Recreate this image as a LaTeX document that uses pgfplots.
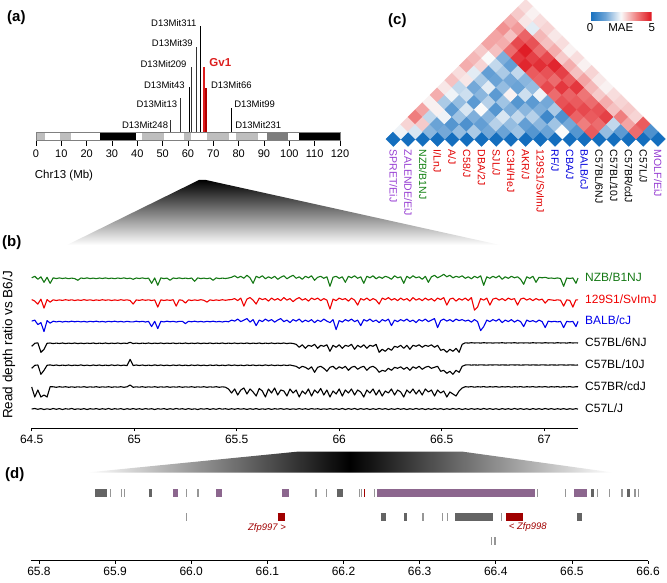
\documentclass[border=0pt]{standalone}
\usepackage{fontspec}
\setmainfont{Liberation Sans}
\usepackage{pgfplots}
\pgfplotsset{compat=1.18}
\usepackage{pgfplotstable}

\definecolor{trkgreen}{RGB}{20,120,20}
\definecolor{trkred}{RGB}{240,0,0}
\definecolor{trkblue}{RGB}{0,0,235}
\definecolor{lblpurple}{RGB}{150,60,210}
\definecolor{lblgreen}{RGB}{20,130,20}
\definecolor{lblred}{RGB}{225,0,0}
\definecolor{lblblue}{RGB}{0,0,220}
\definecolor{genegray}{RGB}{100,100,100}
\definecolor{thingray}{RGB}{150,150,150}
\definecolor{genepurple}{RGB}{140,102,142}
\definecolor{genered}{RGB}{160,0,0}
\definecolor{bandgray}{RGB}{190,190,190}
\definecolor{banddark}{RGB}{125,125,125}
\definecolor{gvred}{RGB}{220,30,30}

\pgfplotstableread{
x g r b k1 k2 k3 k4
64.500 0.5 0.5 0.5 -3 -3 0 0
64.515 2 -1 1.5 0 0 -10 0.5
64.530 -1 -4 -3 0.5 0.3 -3 -0.3
64.545 1.5 1 -1 -9 -9 -10 0.4
64.560 -4 -8 -10 -6 -5 -8 -0.5
64.575 1 0.5 1 0 0 -10 0.2
64.590 -5 -2 -1.5 0.3 0.4 0.3 -0.4
64.605 0.5 0.3 0.4 -0.3 -0.2 0.2 0.5
64.620 -0.3 -0.4 -0.3 0.2 0.3 -0.3 -0.3
64.635 0.4 0.2 0.3 -0.2 -0.3 0.3 0.4
64.650 -0.2 -0.3 -0.4 0.3 0.2 -0.2 -0.5
64.665 0.3 0.4 0.2 -0.3 -0.2 0.3 0.3
64.680 -0.4 -0.2 -0.3 0.2 0.3 -0.3 -0.2
64.695 0.2 0.3 0.4 -0.2 -0.3 0.2 0.5
64.710 -0.3 -0.4 -0.2 0.3 0.2 -0.3 -0.4
64.725 -2 0.2 0.3 -0.3 -0.2 0.2 0.2
64.740 0.3 -0.3 -0.3 0.2 0.4 -0.2 -0.3
64.755 -0.2 0.4 0.2 -0.3 -0.3 0.3 0.4
64.770 0.4 -0.2 -0.4 0.2 0.2 -0.3 -0.5
64.785 -0.3 0.3 0.3 -0.2 -0.4 0.2 0.3
64.800 0.2 -0.4 -0.2 0.3 0.3 -0.2 -0.2
64.815 -0.4 0.2 0.4 -0.3 -0.2 0.3 0.4
64.830 0.3 -0.3 -0.3 0.2 0.3 -0.3 -0.4
64.845 -0.2 0.4 0.2 -0.2 -0.3 0.2 0.3
64.860 0.4 -0.2 -0.4 0.3 0.2 -0.2 -0.3
64.875 -0.3 0.3 0.3 -0.3 -0.3 0.3 0.5
64.890 0.2 -0.4 -0.2 0.2 0.4 -0.3 -0.4
64.905 -0.4 0.2 0.4 -0.2 -0.2 0.2 0.3
64.920 0.3 -0.3 -0.3 0.3 0.3 -0.2 -0.2
64.935 -0.2 0.4 0.2 -0.3 -0.3 0.3 0.4
64.950 0.4 -0.2 -0.4 0.2 0.2 -0.3 -0.5
64.965 -0.3 0.3 0.3 -0.2 -0.4 0.2 0.3
64.980 0.2 -0.4 -0.2 1 6 2 -0.3
64.995 -1 -4 -0.3 -0.3 -0.2 -0.3 0.4
65.010 0.3 0.2 0.4 0.2 0.3 0.2 -0.3
65.025 -0.2 -0.3 -0.2 -0.3 -0.2 -0.2 0.3
65.040 0.4 0.4 0.3 0.2 0.3 0.3 -0.4
65.055 -0.3 -0.2 -0.4 -0.2 -0.3 -0.3 0.4
65.070 0.2 0.3 0.2 0.3 0.2 0.2 -0.2
65.085 -5 -0.4 -5 -0.3 -0.3 -0.2 0.3
65.100 0.3 0.2 0.3 0.2 0.4 0.3 -0.5
65.115 -7 -7 -7 -0.2 -0.2 -0.3 0.3
65.130 0.4 0.3 0.2 0.3 0.3 0.2 -0.2
65.145 -0.3 -0.4 -0.3 -0.3 -0.3 -0.2 0.4
65.160 0.2 0.2 0.4 0.2 0.2 0.3 -0.4
65.175 -2 -0.3 -0.2 -0.2 -0.4 -0.3 0.3
65.190 0.3 0.4 0.3 0.3 0.3 0.2 -0.3
65.205 -0.2 -6 -0.4 -0.3 -0.2 -0.2 0.5
65.220 0.4 0.3 0.2 0.2 0.3 0.3 -0.2
65.235 -0.3 -0.2 0.3 -0.2 -0.3 -0.3 0.3
65.250 0.2 -3 -2 0.3 0.2 0.2 -0.4
65.265 -0.4 0.3 0.3 -0.3 -0.4 -0.2 0.4
65.280 0.3 -0.4 -0.2 0.2 0.3 0.3 -0.3
65.295 -3 0.2 0.4 -0.2 -0.2 -0.3 0.2
65.310 0.4 -0.3 -0.3 0.3 0.3 0.2 -0.5
65.325 -0.3 0.4 0.2 -0.3 -0.3 -0.2 0.3
65.340 0.2 -0.2 -0.4 0.2 0.2 0.3 -0.2
65.355 -0.4 -2 0.3 -0.2 -0.4 -0.3 0.4
65.370 0.3 0.3 -0.2 0.3 0.3 0.2 -0.4
65.385 -2 -0.4 0.4 -0.3 -0.2 -0.2 0.3
65.400 0.4 0.2 -0.3 0.2 0.3 0.3 -0.3
65.415 -0.3 -0.3 0.2 -0.2 -0.3 -0.3 0.5
65.430 0.2 0.4 -0.4 0.3 0.2 0.2 -0.2
65.445 -0.2 -0.2 0.3 -0.3 -0.3 -0.2 0.3
65.460 0.3 0.3 -0.2 0.2 0.4 -2 -0.4
65.475 1 0.5 1.5 -0.2 -0.2 -6 0.3
65.490 2.5 1.5 0.5 0.3 0.3 -2 -0.3
65.505 0.5 -0.5 2.5 -0.3 -0.3 -8 0.4
65.520 2 2 0 0.2 0.2 -3 -0.2
65.535 0 -6 1.5 -0.2 -0.4 -1 0.3
65.550 3 1 3 0.3 0.3 -7 -0.4
65.565 0.5 2.5 -0.5 -0.3 -0.2 -2 0.3
65.580 -5 0 2 0.2 0.3 -5 -0.3
65.595 2 -4 -4 -0.2 -0.3 -9 0.4
65.610 0.5 2 1.5 0.3 0.2 -1.5 -0.4
65.625 2.5 0.5 0 -0.3 -0.3 -4 0.2
65.640 -0.5 1.5 2.5 0.2 0.4 -10 -0.3
65.655 1.5 -1 0.5 -0.2 -0.2 -2 0.4
65.670 0 2 2 0.3 0.3 -6 -0.4
65.685 2 0 -0.5 -0.3 -0.3 -1 0.3
65.700 -1 1.5 1.5 0.2 0.2 -8 -0.2
65.715 1 -0.5 3 -0.2 -0.3 -3 0.4
65.730 2.5 2.5 0 0.3 0.3 -4 -0.3
65.745 -0.5 0 1.5 -0.3 -0.2 -9 0.3
65.760 1.5 1.5 -1 0.2 0.3 -2 -0.4
65.775 3 -1.5 2 -0.2 -0.4 -6 0.2
65.790 0 1 0.5 -1 -1 -3 -0.3
65.805 1.5 2.5 2.5 -4 -3 -10 0.4
65.820 -1 0 -0.5 -1.5 -1 -4 -0.3
65.835 2 1.5 1.5 -5 -2 -7 0.3
65.850 0.5 -1 0 -2 -4 -2 -0.4
65.865 2.5 2 2 -3 -1.5 -9 0.4
65.880 -2 0.5 -1 -1 -7 -3 -0.2
65.895 1 2 1.5 -5 -2 -6 0.3
65.910 2 -0.5 0 -2 -1 -1.5 -0.4
65.925 0 1.5 2.5 -3 -3 -8 0.2
65.940 1.5 0 0.5 -1.5 -6 -3 -0.3
65.955 -8 -9 -1 -8 -2 -10 0.4
65.970 1 1 2 -2 -1 -4 -0.3
65.985 2 -0.5 -8 -4 -4 -7 0.3
66.000 0 2 1 -1.5 -1.5 -2 -0.4
66.015 1.5 0.5 -0.5 -5 -3 -9 0.5
66.030 -4 1.5 2 -2 -1 -3 -0.5
66.045 2 -1 0.5 -3 -5 -6 0.4
66.060 0.5 2 2.5 -1 -2 -2 -0.3
66.075 2.5 0 0 -6 -1 -8 0.5
66.090 0 -5 1.5 -2 -4 -3 -0.5
66.105 1.5 1.5 -4 -4 -2 -5 0.4
66.120 -5 0 2 -1.5 -1 -10 -0.3
66.135 2 2 0.5 -5 -5 -3 0.4
66.150 0.5 -0.5 2.5 -2 -2 -6 -0.5
66.165 2.5 1.5 0 -3 -1 -2 0.3
66.180 -0.5 0 1.5 -1 -3 -8 -0.4
66.195 1.5 -4 -1 -9 -7 -3 0.5
66.210 0 2 2 -6 -5 -9 -0.3
66.225 2 0.5 0.5 -8 -6 -4 0.4
66.240 1 2.5 2.5 -5 -3 -6 -0.5
66.255 -1 0 -4 -7 -5 -2 0.3
66.270 2.5 1.5 1.5 -3 -2 -8 -0.4
66.285 0.5 -0.5 0 -4 -3 -3 0.5
66.300 1.5 2 2 -2 -1.5 -5 -0.3
66.315 -5 0 0.5 -5 -4 -10 0.4
66.330 2 1.5 2.5 -2 -2 -3 -0.5
66.345 0 -1 0 -6 -5 -6 0.3
66.360 2.5 2.5 1.5 -2 -1.5 -2 -0.4
66.375 0.5 0 -1 -3 -3 -7 0.5
66.390 1.5 1.5 2 -1.5 -1 -3 -0.3
66.405 -1 -0.5 0.5 -4 -4 -8 0.4
66.420 2 2 2.5 -2 -2 -2 -0.5
66.435 -4 0 0 -3 -1 -5 0.3
66.450 1.5 1.5 1.5 -1.5 -3 -3 -0.4
66.465 3 -1 3 -4 -2 -9 0.5
66.480 0.5 2 -6 -2 -1 -3 -0.3
66.495 2 0.5 1 -7 -6 -6 0.4
66.510 4 2.5 2.5 -6 -5 -4 -0.5
66.525 1.5 -5 0.5 -9 -8 -10 0.3
66.540 3 1 2 -6 -6 -5 -0.4
66.555 0.5 2 0 -8 -9 -7 0.5
66.570 2 -1 2.5 -5 -5 -9 -0.3
66.585 1 1.5 1 -9 -7 -4 0.4
66.600 2.5 0 2 -1 -1 -1 -0.5
66.615 0 2 0.5 0.5 0.3 0.3 0.3
66.630 1.5 -0.5 1.5 0.2 0.5 0 -0.4
66.645 -0.5 2.5 -0.5 0.6 0.2 0.4 0.4
66.660 2 -10 2 0.3 0.4 -0.2 -0.3
66.675 0.5 -7 0 0.5 0.2 0.3 0.3
66.690 2.5 1.5 -9 0.2 0.5 0 -0.4
66.705 -7 0 -5 0.6 0.3 0.4 0.5
66.720 1.5 2 1.5 0.3 0.2 -0.2 -0.3
66.735 0 -5 0 0.5 0.4 0.3 0.4
66.750 2 1 2 0.2 0.3 0 -0.4
66.765 0.5 2 0.5 0.5 0.5 0.4 0.3
66.780 2.5 0 2.5 0.3 0.2 -0.2 -0.5
66.795 -1 1.5 -1 0.6 0.4 0.3 0.4
66.810 1.5 -0.5 1.5 0.2 0.3 0 -0.3
66.825 0 2 0 0.5 0.2 0.4 0.3
66.840 2 0.5 2 0.3 0.5 -0.2 -0.4
66.855 0.5 1.5 -0.5 0.6 0.3 0.3 0.5
66.870 1.5 -5 1.5 0.2 0.4 0 -0.3
66.885 -1 1 0 0.5 0.2 0.4 0.4
66.900 -6 2 -5 0.3 0.3 -0.2 -0.4
66.915 1.5 0 1.5 0.5 0.5 0.3 0.3
66.930 0 1.5 0 0.2 0.2 0 -0.5
66.945 2 -0.5 1 0.6 0.4 0.4 0.4
66.960 -4 1.5 -0.5 0.3 0.3 -0.2 -0.3
66.975 1 0 1.5 0.5 0.2 0.3 0.3
66.990 0.5 1 0 0.2 0.5 0 -0.4
67.005 1 -3 -6 0.6 0.3 0.4 0.5
67.020 0 0.5 0.5 0.3 0.2 -0.2 -0.3
67.035 0.3 0.2 -0.2 0.5 0.4 0.3 0.4
67.050 -0.2 -0.3 0.3 0.2 0.3 0 -0.4
67.065 0.4 0.3 -0.3 0.6 0.2 0.4 0.3
67.080 -0.3 -0.2 0.2 0.3 0.5 -0.2 -0.3
67.095 -8 -6 -6 0.5 0.3 0.3 0.4
67.110 0.3 0.3 0.3 0.2 0.2 0 -0.4
67.125 -0.2 -0.3 -0.3 0.6 0.4 0.4 0.3
67.140 0.4 -7 0.2 0.3 0.3 -0.2 -0.3
67.155 -5 0.3 -5 0.5 0.2 0.3 0.4
67.165 0.2 0.2 0.2 0.3 0.3 0.2 -0.2
}\tracks

\pgfplotstableread{
i j v
1 1 0
2 2 0
3 3 0
4 4 0
5 5 0
6 6 0
7 7 0
8 8 0
9 9 0
10 10 0
11 11 0
12 12 0
13 13 0
14 14 0
15 15 0
16 16 0
17 17 0
18 18 0
19 19 0
1 2 2.4
1 3 2.9
1 4 3.8
1 5 3.4
1 6 2.6
1 7 3.3
1 8 2.7
1 9 3.1
1 10 2.8
1 11 3.3
1 12 3.2
1 13 3.0
1 14 3.4
1 15 3.4
1 16 3.6
1 17 3.3
1 18 3.0
1 19 2.8
2 3 2.2
2 4 3.0
2 5 2.0
2 6 2.6
2 7 1.8
2 8 2.4
2 9 2.0
2 10 2.7
2 11 2.3
2 12 2.9
2 13 2.5
2 14 3.1
2 15 3.3
2 16 3.1
2 17 3.5
2 18 2.7
2 19 2.6
3 4 1.5
3 5 1.2
3 6 2.4
3 7 1.0
3 8 1.6
3 9 2.1
3 10 1.3
3 11 1.8
3 12 1.1
3 13 2.0
3 14 1.4
3 15 4.0
3 16 4.4
3 17 4.1
3 18 2.3
3 19 2.8
4 5 1.3
4 6 0.9
4 7 1.7
4 8 2.2
4 9 1.0
4 10 1.5
4 11 2.3
4 12 1.2
4 13 1.8
4 14 1.1
4 15 4.6
4 16 4.9
4 17 4.3
4 18 3.2
4 19 2.9
5 6 1.6
5 7 0.8
5 8 1.4
5 9 2.5
5 10 1.9
5 11 1.0
5 12 1.6
5 13 1.3
5 14 2.0
5 15 4.8
5 16 4.5
5 17 4.0
5 18 3.1
5 19 2.7
6 7 1.8
6 8 1.1
6 9 1.5
6 10 0.9
6 11 1.7
6 12 2.6
6 13 1.2
6 14 1.5
6 15 4.2
6 16 4.7
6 17 4.4
6 18 3.3
6 19 2.8
7 8 1.3
7 9 1.9
7 10 2.2
7 11 1.4
7 12 0.9
7 13 2.1
7 14 1.6
7 15 4.1
7 16 4.3
7 17 4.8
7 18 3.0
7 19 2.6
8 9 1.2
8 10 1.6
8 11 2.0
8 12 1.5
8 13 1.0
8 14 2.4
8 15 4.4
8 16 4.0
8 17 4.5
8 18 3.3
8 19 2.8
9 10 1.7
9 11 1.1
9 12 1.9
9 13 1.4
9 14 1.3
9 15 4.0
9 16 4.6
9 17 4.2
9 18 3.1
9 19 2.6
10 11 0.9
10 12 1.5
10 13 0.6
10 14 1.8
10 15 4.3
10 16 4.1
10 17 4.6
10 18 3.4
10 19 2.9
11 12 1.2
11 13 1.7
11 14 0.8
11 15 4.5
11 16 4.2
11 17 3.9
11 18 3.2
11 19 2.7
12 13 2.5
12 14 1.3
12 15 4.1
12 16 4.4
12 17 4.0
12 18 3.0
12 19 2.6
13 14 0.9
13 15 3.8
13 16 4.2
13 17 4.3
13 18 3.3
13 19 2.8
14 15 4.2
14 16 4.0
14 17 4.5
14 18 3.1
14 19 2.9
15 16 1.6
15 17 2.0
15 18 3.8
15 19 3.0
16 17 1.0
16 18 3.4
16 19 2.9
17 18 4.0
17 19 4.2
18 19 0.8
}\heat

\begin{document}
\begin{tikzpicture}[x=1pt,y=1pt]
\path[use as bounding box] (0,0) rectangle (667,582);

% connecting wedges
\shade[top color=black, bottom color=white] (199,402) -- (206,402) -- (500,337) -- (67,337) -- cycle;
\shade[left color=white, right color=white, middle color=black] (297,130.3) -- (463,130.3) -- (613,109.5) -- (87,109.5) -- cycle;

% panel labels
\node[anchor=west, inner sep=0pt, font=\fontsize{15}{16}\selectfont\bfseries] at (7,564) {(a)};
\node[anchor=west, inner sep=0pt, font=\fontsize{15}{16}\selectfont\bfseries] at (2,339) {(b)};
\node[anchor=west, inner sep=0pt, font=\fontsize{15}{16}\selectfont\bfseries] at (388,561) {(c)};
\node[anchor=west, inner sep=0pt, font=\fontsize{15}{16}\selectfont\bfseries] at (5,107) {(d)};

% ---------------- (a) chromosome ----------------
\begin{axis}[at={(36pt,442pt)}, anchor=south west, scale only axis,
  width=304pt, height=130pt, xmin=0, xmax=120, ymin=0, ymax=130, clip=false,
  axis x line=bottom, axis y line=none, x axis line style={draw=none},
  xtick={0,10,...,120}, tick align=outside, major tick length=6pt,
  xtick style={black, line width=0.5pt},
  xticklabel style={font=\fontsize{11}{12}\selectfont},
  /pgf/number format/assume math mode=true]
\addplot[fill=bandgray, draw=none] coordinates {(0,8)(3.5,8)} \closedcycle;
\addplot[fill=bandgray, draw=none] coordinates {(9.5,8)(13.7,8)} \closedcycle;
\addplot[fill=black, draw=none] coordinates {(25.3,8)(39.4,8)} \closedcycle;
\addplot[fill=bandgray, draw=none] coordinates {(41.8,8)(50.6,8)} \closedcycle;
\addplot[fill=bandgray, draw=none] coordinates {(58.6,8)(61.1,8)} \closedcycle;
\addplot[fill=bandgray, draw=none] coordinates {(67.5,8)(76,8)} \closedcycle;
\addplot[fill=bandgray, draw=none] coordinates {(79,8)(87.5,8)} \closedcycle;
\addplot[fill=banddark, draw=none] coordinates {(91,8)(99.3,8)} \closedcycle;
\addplot[fill=black, draw=none] coordinates {(104,8)(120,8)} \closedcycle;
\addplot[draw=gray, line width=0.5pt] coordinates {(0,0)(120,0)(120,8)(0,8)(0,0)};
% markers
\addplot[black!80, line width=0.6pt] coordinates {(53,8)(53,20)};
\addplot[black!80, line width=0.6pt] coordinates {(57,8)(57,42)};
\addplot[black, line width=1.1pt] coordinates {(60.5,8)(60.5,53)};
\addplot[black!80, line width=0.6pt] coordinates {(61.3,8)(61.3,73)};
\addplot[black!80, line width=0.6pt] coordinates {(63.3,8)(63.3,93)};
\addplot[black, line width=0.6pt] coordinates {(64.7,8)(64.7,114)};
\addplot[gvred, line width=1.1pt] coordinates {(66.3,8)(66.3,73)};
\addplot[red!70!black, line width=1.1pt] coordinates {(67.1,8)(67.1,52)};
\addplot[black, line width=0.6pt] coordinates {(77,8)(77,32)};
\addplot[black, line width=1.0pt] coordinates {(77.3,8)(77.3,13)};
\node[anchor=east, inner sep=0pt, font=\fontsize{9.5}{10}\selectfont] at (axis cs:63.4,117) {D13Mit311};
\node[anchor=east, inner sep=0pt, font=\fontsize{9.5}{10}\selectfont] at (axis cs:61.9,97) {D13Mit39};
\node[anchor=east, inner sep=0pt, font=\fontsize{9.5}{10}\selectfont] at (axis cs:59.5,76) {D13Mit209};
\node[anchor=east, inner sep=0pt, font=\fontsize{9.5}{10}\selectfont] at (axis cs:58.8,55) {D13Mit43};
\node[anchor=east, inner sep=0pt, font=\fontsize{9.5}{10}\selectfont] at (axis cs:55.8,36) {D13Mit13};
\node[anchor=east, inner sep=0pt, font=\fontsize{9.5}{10}\selectfont] at (axis cs:52.2,15) {D13Mit248};
\node[anchor=west, inner sep=0pt, text=gvred, font=\fontsize{11.5}{12}\selectfont\bfseries] at (axis cs:68.4,77) {Gv1};
\node[anchor=west, inner sep=0pt, font=\fontsize{9.5}{10}\selectfont] at (axis cs:69.0,55) {D13Mit66};
\node[anchor=west, inner sep=0pt, font=\fontsize{9.5}{10}\selectfont] at (axis cs:78.2,36) {D13Mit99};
\node[anchor=west, inner sep=0pt, font=\fontsize{9.5}{10}\selectfont] at (axis cs:78.6,15) {D13Mit231};
\node[anchor=west, inner sep=0pt, font=\fontsize{11.5}{12}\selectfont] at (axis cs:-0.5,-36) {Chr13 (Mb)};
\end{axis}

% ---------------- (b) read depth tracks ----------------
\begin{axis}[at={(31.7pt,153.7pt)}, anchor=south west, scale only axis,
  width=546.3pt, height=166pt, xmin=64.5, xmax=67.165, ymin=-150, ymax=16, clip=false,
  axis x line=bottom, axis y line=none, x axis line style={-, line width=0.7pt},
  xtick={64.5,65,65.5,66,66.5,67}, tick align=outside, major tick length=3pt,
  xtick style={black, line width=0.6pt},
  xticklabel style={font=\fontsize{12}{13}\selectfont},
  /pgf/number format/assume math mode=true]
\addplot[trkgreen, line width=1.1pt, line join=round] table[x=x, y=g] {\tracks};
\addplot[trkred, line width=1.1pt, line join=round] table[x=x, y expr=\thisrow{r}-21.8] {\tracks};
\addplot[trkblue, line width=1.1pt, line join=round] table[x=x, y expr=\thisrow{b}-43.3] {\tracks};
\addplot[black, line width=1.1pt, line join=round] table[x=x, y expr=\thisrow{k1}-65] {\tracks};
\addplot[black, line width=1.1pt, line join=round] table[x=x, y expr=\thisrow{k2}-87] {\tracks};
\addplot[black, line width=1.1pt, line join=round] table[x=x, y expr=\thisrow{k3}-108.7] {\tracks};
\addplot[black, line width=1.1pt, line join=round] table[x=x, y expr=\thisrow{k4}-130.7] {\tracks};
\end{axis}
\node[rotate=90, font=\fontsize{13.5}{14}\selectfont] at (9,237) {Read depth ratio vs B6/J};
\node[anchor=west, inner sep=0pt, text=trkgreen, font=\fontsize{12}{13}\selectfont] at (585,304.5) {NZB/B1NJ};
\node[anchor=west, inner sep=0pt, text=trkred, font=\fontsize{12}{13}\selectfont] at (585,283) {129S1/SvImJ};
\node[anchor=west, inner sep=0pt, text=trkblue, font=\fontsize{12}{13}\selectfont] at (585,261.5) {BALB/cJ};
\node[anchor=west, inner sep=0pt, font=\fontsize{12}{13}\selectfont] at (585,239.5) {C57BL/6NJ};
\node[anchor=west, inner sep=0pt, font=\fontsize{12}{13}\selectfont] at (585,217.5) {C57BL/10J};
\node[anchor=west, inner sep=0pt, font=\fontsize{12}{13}\selectfont] at (585,195.5) {C57BR/cdJ};
\node[anchor=west, inner sep=0pt, font=\fontsize{12}{13}\selectfont] at (585,173.5) {C57L/J};

% ---------------- (d) genes ----------------
\begin{axis}[at={(31pt,21.3pt)}, anchor=south west, scale only axis,
  width=617pt, height=85pt, xmin=65.7895, xmax=66.6, ymin=0, ymax=85, clip=false,
  axis x line=bottom, axis y line=none, x axis line style={-, line width=0.7pt},
  xtick={65.8,65.9,66.0,66.1,66.2,66.3,66.4,66.5,66.6}, tick align=outside, major tick length=3pt,
  xtick style={black, line width=0.6pt},
  xticklabel style={font=\fontsize{12}{13}\selectfont, /pgf/number format/fixed, /pgf/number format/fixed zerofill, /pgf/number format/precision=1},
  /pgf/number format/assume math mode=true, unbounded coords=jump]
% row 1
\addplot[genegray, line width=8.5pt] coordinates {(65.8737,67.7)(65.8899,67.7) (65.9,nan) (65.9439,67.7)(65.9482,67.7) (66,nan) (66.191,67.7)(66.199,67.7) (66.2,nan) (66.5252,67.7)(66.5291,67.7) (66.55,nan) (66.5724,67.7)(66.5759,67.7)};
\addplot[genepurple, line width=8.5pt] coordinates {(65.9759,67.7)(65.9820,67.7) (66,nan) (66.0325,67.7)(66.0400,67.7) (66.1,nan) (66.1190,67.7)(66.1290,67.7) (66.2,nan) (66.2438,67.7)(66.4510,67.7) (66.5,nan) (66.5033,67.7)(66.5195,67.7)};
\addplot[thingray, line width=8.5pt] coordinates {(65.8932,67.7)(65.8948,67.7) (65.9,nan) (65.9080,67.7)(65.9096,67.7) (65.91,nan) (65.9115,67.7)(65.9131,67.7) (65.95,nan) (65.9932,67.7)(65.9948,67.7) (66,nan) (66.0080,67.7)(66.0096,67.7) (66.1,nan) (66.1632,67.7)(66.1648,67.7) (66.17,nan) (66.1772,67.7)(66.1788,67.7) (66.2,nan) (66.2202,67.7)(66.2218,67.7) (66.22,nan) (66.2232,67.7)(66.2248,67.7) (66.23,nan) (66.2399,67.7)(66.2415,67.7) (66.45,nan) (66.4545,67.7)(66.4561,67.7) (66.47,nan) (66.4908,67.7)(66.4924,67.7) (66.53,nan) (66.5332,67.7)(66.5348,67.7) (66.54,nan) (66.5489,67.7)(66.5505,67.7) (66.56,nan) (66.5651,67.7)(66.5667,67.7) (66.58,nan) (66.5821,67.7)(66.5837,67.7) (66.585,nan) (66.5869,67.7)(66.5885,67.7)};
\addplot[genered, line width=8.5pt] coordinates {(66.2268,67.7)(66.2284,67.7)};
% row 2
\addplot[genegray, line width=8pt] coordinates {(66.2490,43.7)(66.2553,43.7) (66.26,nan) (66.2796,43.7)(66.2840,43.7) (66.3,nan) (66.3466,43.7)(66.3969,43.7) (66.45,nan) (66.5072,43.7)(66.5130,43.7)};
\addplot[thingray, line width=8pt] coordinates {(65.9932,43.7)(65.9948,43.7) (66.1,nan) (66.3036,43.7)(66.3052,43.7) (66.31,nan) (66.3292,43.7)(66.3308,43.7) (66.333,nan) (66.3357,43.7)(66.3373,43.7) (66.4,nan) (66.4072,43.7)(66.4088,43.7)};
\addplot[genered, line width=8pt] coordinates {(66.1136,43.7)(66.1228,43.7) (66.3,nan) (66.4133,43.7)(66.4361,43.7)};
% row 3
\addplot[thingray, line width=8pt] coordinates {(66.3937,19.7)(66.3953,19.7) (66.397,nan) (66.3982,19.7)(66.3998,19.7)};
\node[anchor=east, inner sep=0pt, text=genered, font=\fontsize{9.5}{10}\selectfont\itshape] at (axis cs:66.1245,32.7) {Zfp997 >};
\node[anchor=west, inner sep=0pt, text=genered, font=\fontsize{9.5}{10}\selectfont\itshape] at (axis cs:66.417,33.7) {< Zfp998};
\end{axis}

% ---------------- (c) heatmap ----------------
\begin{axis}[at={(386pt,435.6pt)}, anchor=south west, scale only axis,
  width=279.3pt, height=147.2pt, xmin=0.5, xmax=19.5, ymin=-0.5, ymax=9.5, clip=false,
  axis line style={draw=none}, major tick length=0pt,
  ytick=\empty, xtick={1,...,19},
  xticklabels={{\color{lblpurple}SPRET/EiJ},{\color{lblpurple}ZALENDE/EiJ},{\color{lblgreen}NZB/B1NJ},{\color{lblred}I/LnJ},{\color{lblred}A/J},{\color{lblred}C58/J},{\color{lblred}DBA/2J},{\color{lblred}SJL/J},{\color{lblred}C3H/HeJ},{\color{lblred}AKR/J},{\color{lblred}129S1/SvImJ},{\color{lblblue}RF/J},{\color{lblblue}CBA/J},{\color{lblblue}BALB/cJ},{C57BL/6NJ},{C57BL/10J},{C57BR/cdJ},{C57L/J},{\color{lblpurple}MOLF/EiJ}},
  xticklabel style={rotate=-90, anchor=west, font=\fontsize{10.5}{11}\selectfont},
  colormap={mae}{rgb255=(20,110,190) rgb255=(110,165,215) rgb255=(250,250,250) rgb255=(240,130,130) rgb255=(222,20,30)},
  point meta min=0, point meta max=5,
  colorbar horizontal,
  colorbar style={at={(parent axis.north west)}, anchor=north west, xshift=204pt, yshift=-5pt,
    width=61.7pt, height=7.7pt, scale only axis,
    xtick={0,2.5,5}, xticklabels={0,MAE,5}, major tick length=0pt,
    xticklabel style={font=\fontsize{11.5}{12}\selectfont, rotate=0},
    axis line style={draw=none}}]
\addplot[scatter, only marks, mark=square*, mark size=5.25pt, point meta=explicit,
  scatter/use mapped color={draw=mapped color, fill=mapped color},
  mark options={rotate=45, line width=0.3pt}]
  table[x expr=(\thisrow{i}+\thisrow{j})/2, y expr=(\thisrow{j}-\thisrow{i})/2, meta=v] {\heat};
\end{axis}
\end{tikzpicture}
\end{document}
